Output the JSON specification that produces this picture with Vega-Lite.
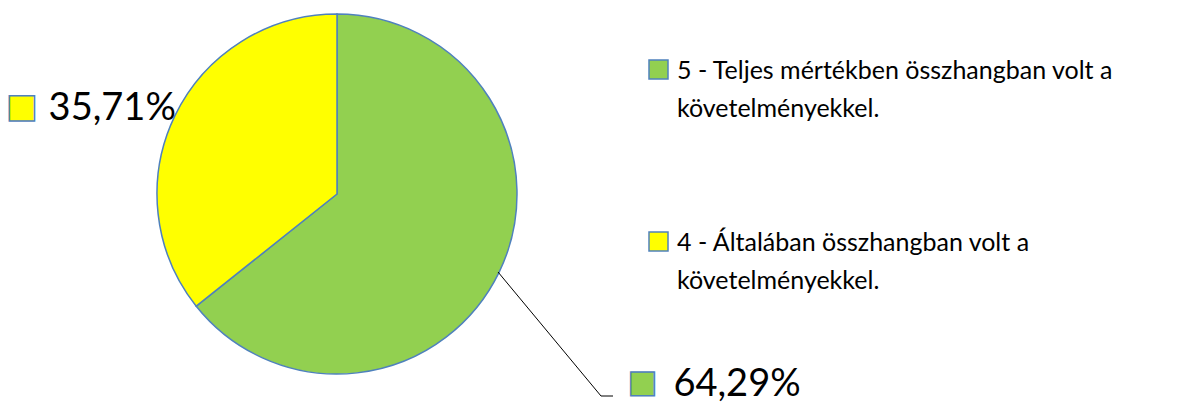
{
  "$schema": "https://vega.github.io/schema/vega-lite/v6.json",
  "width": 674,
  "height": 388,
  "autosize": {"type": "none"},
  "padding": {"left": 0, "top": 0, "right": 522, "bottom": 15},
  "background": "white",
  "config": {"view": {"stroke": null}},
  "data": {
    "values": [
      {"kat": "5 - Teljes mértékben összhangban volt a\nkövetelményekkel.", "arany": 64.29, "sorrend": 1, "cimke": "64,29%"},
      {"kat": "4 - Általában összhangban volt a\nkövetelményekkel.", "arany": 35.71, "sorrend": 2, "cimke": "35,71%"}
    ]
  },
  "layer": [
    {
      "mark": {"type": "arc", "outerRadius": 180, "stroke": "#4F81BD", "strokeWidth": 1.5},
      "encoding": {
        "theta": {"field": "arany", "type": "quantitative", "stack": true},
        "order": {"field": "sorrend", "type": "quantitative"},
        "color": {
          "field": "kat",
          "type": "nominal",
          "scale": {
            "domain": ["5 - Teljes mértékben összhangban volt a\nkövetelményekkel.", "4 - Általában összhangban volt a\nkövetelményekkel."],
            "range": ["#92D050", "#FFFF00"]
          },
          "legend": {
            "orient": "none",
            "legendX": 646,
            "legendY": 57,
            "title": null,
            "padding": 0,
            "symbolType": "square",
            "symbolSize": 361,
            "symbolStrokeColor": "#4F81BD",
            "symbolStrokeWidth": 1.5,
            "symbolOpacity": 1,
            "labelFont": "Lato",
            "labelFontSize": 25,
            "labelColor": "#000000",
            "labelLimit": 0,
            "labelOffset": 6,
            "rowPadding": 107,
            "labelBaseline": "alphabetic",
            "labelExpr": "split(datum.label, '\\n')",
            "encode": {"labels": {"update": {"dy": {"value": 9}, "lineHeight": {"value": 38}}}}
          }
        }
      }
    },
    {
      "mark": {"type": "text", "font": "Lato", "fontSize": 38, "align": "right", "baseline": "alphabetic", "dx": -8, "dy": 0},
      "encoding": {
        "theta": {"field": "arany", "type": "quantitative", "stack": true},
        "order": {"field": "sorrend", "type": "quantitative"},
        "radius": {"value": 170},
        "color": {"value": "#000000"},
        "text": {"condition": {"test": "datum.sorrend === 2", "field": "cimke"}, "value": ""}
      }
    },
    {
      "mark": {"type": "text", "font": "Lato", "fontSize": 38, "align": "left", "baseline": "alphabetic", "dx": -60, "dy": 11},
      "encoding": {
        "theta": {"field": "arany", "type": "quantitative", "stack": true},
        "order": {"field": "sorrend", "type": "quantitative"},
        "radius": {"value": 440},
        "color": {"value": "#000000"},
        "text": {"condition": {"test": "datum.sorrend === 1", "field": "cimke"}, "value": ""}
      }
    },
    {
      "mark": {"type": "text", "font": "DejaVu Sans", "fontSize": 33, "align": "center", "baseline": "middle", "dx": -162, "dy": -13, "stroke": "#4F81BD", "strokeWidth": 1.5},
      "encoding": {
        "theta": {"field": "arany", "type": "quantitative", "stack": true},
        "order": {"field": "sorrend", "type": "quantitative"},
        "radius": {"value": 170},
        "color": {"value": "#FFFF00"},
        "text": {"condition": {"test": "datum.sorrend === 2", "value": "■"}, "value": ""}
      }
    },
    {
      "mark": {"type": "text", "font": "DejaVu Sans", "fontSize": 31, "align": "center", "baseline": "middle", "dx": -91, "dy": -2, "stroke": "#4F81BD", "strokeWidth": 1.5},
      "encoding": {
        "theta": {"field": "arany", "type": "quantitative", "stack": true},
        "order": {"field": "sorrend", "type": "quantitative"},
        "radius": {"value": 440},
        "color": {"value": "#92D050"},
        "text": {"condition": {"test": "datum.sorrend === 1", "value": "■"}, "value": ""}
      }
    },
    {
      "data": {"values": [{"vezeto": "64,29%"}]},
      "mark": {"type": "rule", "color": "#000000", "strokeWidth": 1},
      "encoding": {
        "x": {"datum": 498, "type": "quantitative", "scale": {"domain": [0, 674], "nice": false, "zero": false}, "axis": null},
        "x2": {"datum": 601},
        "y": {"datum": 272, "type": "quantitative", "scale": {"domain": [0, 388], "nice": false, "zero": false, "reverse": true}, "axis": null},
        "y2": {"datum": 396}
      }
    },
    {
      "data": {"values": [{"vezeto": "64,29%"}]},
      "mark": {"type": "rule", "color": "#000000", "strokeWidth": 1},
      "encoding": {
        "x": {"datum": 601, "type": "quantitative", "axis": null},
        "x2": {"datum": 613},
        "y": {"datum": 396, "type": "quantitative", "axis": null},
        "y2": {"datum": 396}
      }
    }
  ]
}
